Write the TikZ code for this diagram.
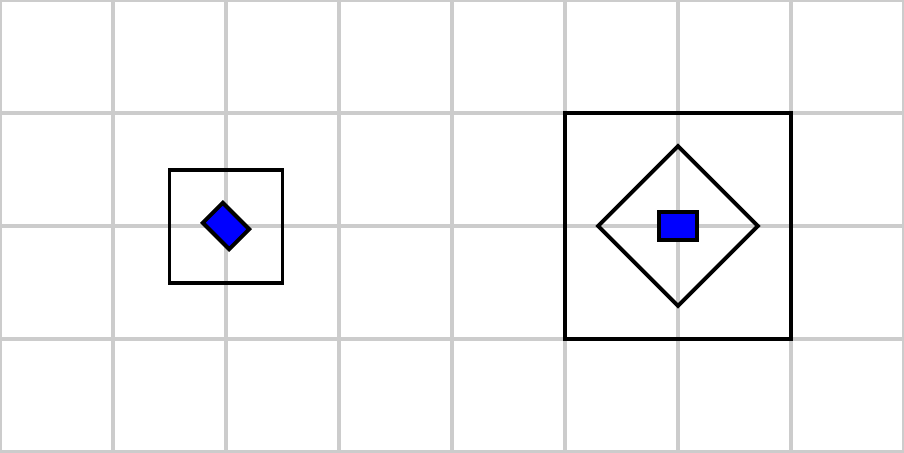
\documentclass[tikz,border=0pt]{standalone}

\begin{document}
\begin{tikzpicture}[
    frame/.style={draw, line width=1pt, inner sep=0pt, minimum size=#1},
    part/.style={draw, line width=1pt, fill=blue, inner sep=0pt, minimum width=0.33cm, minimum height=0.25cm}
]
\useasboundingbox (0,0) rectangle (8,4);

% Background grid
\draw[black!20, thick] (0,0) grid (8,4);

% Small frame with the part turned
\node[frame=1cm] (small) at (2,2) {};
\node[part, rotate=-45] (smallpart) at (small.center) {};

% Large frame with diamond and the part upright
\node[frame=2cm] (large) at (6,2) {};
\node[frame=1cm, rotate=45] (diamond) at (large.center) {};
\node[part] (largepart) at (diamond.center) {};

\end{tikzpicture}
\end{document}
